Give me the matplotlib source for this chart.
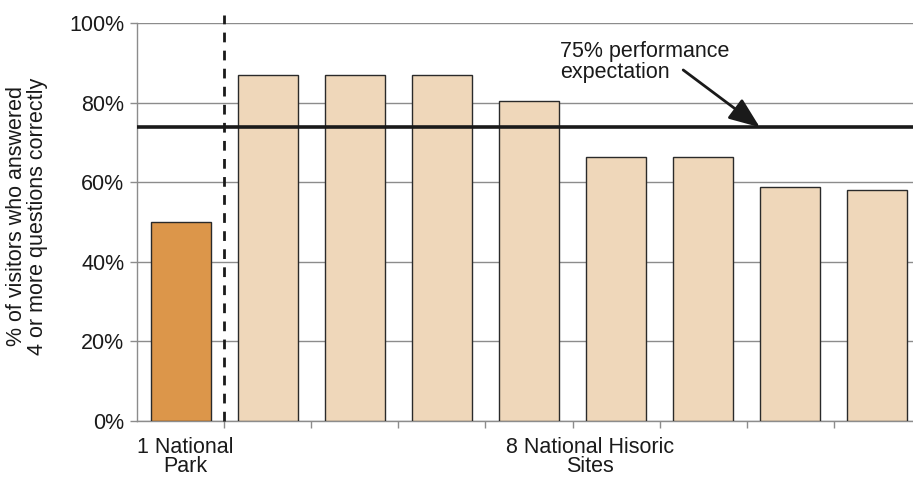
import matplotlib
matplotlib.use("Agg")
import matplotlib.pyplot as plt

plt.rcParams['font.family'] = ['Liberation Sans', 'DejaVu Sans']

sites = ["Park", "Site 1", "Site 2", "Site 3", "Site 4", "Site 5", "Site 6", "Site 7", "Site 8"]
values = [50.0, 86.9, 86.9, 86.9, 80.5, 66.3, 66.3, 58.8, 58.0]
colors = ["#DC964A"] + ["#EFD7BA"] * 8
expectation = 73.8
yticks = [0, 20, 40, 60, 80, 100]
ytick_labels = ["0%", "20%", "40%", "60%", "80%", "100%"]
group_labels = ["1 National\nPark", "8 National Hisoric\nSites"]

FS = 15.5
W, H = 913, 478
fig = plt.figure(figsize=(W / 100, H / 100), dpi=100)
left, right, top, bottom = 137, 921, 23, 421
ax = fig.add_axes([left / W, 1 - bottom / H, (right - left) / W, (bottom - top) / H])

x = list(range(len(values)))
ax.bar(x, values, width=0.69, color=colors, edgecolor="#2a2a2a", linewidth=1.0, zorder=3)

ax.set_xlim(-0.5, len(values) - 0.5)
ax.set_ylim(0, 100)
ax.set_yticks(yticks)
ax.set_yticklabels(ytick_labels, fontsize=FS, color="#1a1a1a")
ax.yaxis.grid(True, color="#8c8c8c", linewidth=1.0, zorder=0)
ax.set_axisbelow(True)

ax.set_xticks([i + 0.5 for i in range(len(values) - 1)])
ax.set_xticklabels([])
ax.tick_params(axis="x", length=5, color="#8c8c8c", width=1)
ax.tick_params(axis="y", length=5, color="#8c8c8c", width=1, pad=4)

for s in ["top", "right"]:
    ax.spines[s].set_visible(False)
for s in ["left", "bottom"]:
    ax.spines[s].set_color("#8c8c8c")
    ax.spines[s].set_linewidth(1.0)

# expectation line
ax.axhline(expectation, color="#1a1a1a", linewidth=2.6, zorder=4)

# separator dashed line
ax.plot([0.5, 0.5], [0, 102], color="#1a1a1a", linestyle=(0, (3.5, 3)),
        linewidth=2.0, clip_on=False, zorder=5)

# annotation
ax.text(4.36, 95.6, "75% performance\nexpectation", fontsize=FS, ha="left", va="top",
        color="#1a1a1a", linespacing=1.0, zorder=6)
ax.annotate("", xy=(6.65, expectation), xytext=(5.77, 88.2),
            arrowprops=dict(arrowstyle="-|>,head_length=1.9,head_width=0.75",
                            color="#1a1a1a", lw=2.0, shrinkA=0, shrinkB=0),
            zorder=6)

# group labels
ax.text(0.05, -3.9, group_labels[0], ha="center", va="top", fontsize=FS,
        color="#1a1a1a", linespacing=0.92)
ax.text(4.7, -3.9, group_labels[1], ha="center", va="top", fontsize=FS,
        color="#1a1a1a", linespacing=0.92)

fig.text(27 / W, 1 - 216 / H, "% of visitors who answered\n4 or more questions correctly",
         rotation=90, ha="center", va="center", fontsize=FS, color="#1a1a1a",
         linespacing=0.95)

fig.savefig("out.png", dpi=100)
